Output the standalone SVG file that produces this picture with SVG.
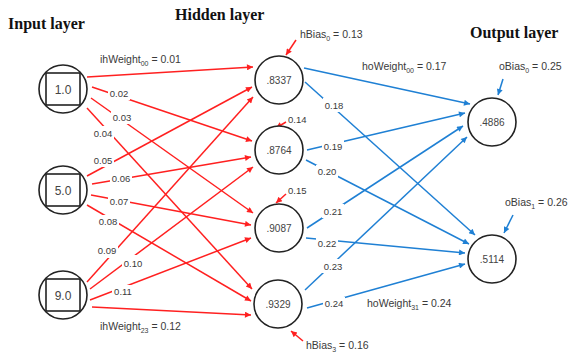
<svg xmlns="http://www.w3.org/2000/svg" width="569" height="354" viewBox="0 0 569 354">
<defs>
<marker id="ar" viewBox="0 0 10 10" refX="10" refY="5" markerWidth="8" markerHeight="6" markerUnits="userSpaceOnUse" orient="auto"><path d="M0,0 L10,5 L0,10 z" fill="#ff2020"/></marker>
<marker id="ab" viewBox="0 0 10 10" refX="10" refY="5" markerWidth="8" markerHeight="6" markerUnits="userSpaceOnUse" orient="auto"><path d="M0,0 L10,5 L0,10 z" fill="#1f80d4"/></marker>
<style>
.hd{font-family:"Liberation Serif",serif;font-weight:bold;font-size:16px;fill:#111}
.r{stroke:#ff2020;stroke-width:1.5;fill:none;marker-end:url(#ar)}
.b{stroke:#1f80d4;stroke-width:1.5;fill:none;marker-end:url(#ab)}
.n{fill:#fff;stroke:#222;stroke-width:1.6}
.sq{fill:none;stroke:#222;stroke-width:1.6}
.v{font-family:"Liberation Sans",sans-serif;font-size:10px;fill:#444;text-anchor:middle}
.vi{font-family:"Liberation Sans",sans-serif;font-size:12px;fill:#444;text-anchor:middle}
.l{font-family:"Liberation Sans",sans-serif;font-size:9.5px;fill:#3a3a3a;text-anchor:middle}
.ls{font-family:"Liberation Sans",sans-serif;font-size:9.5px;fill:#3a3a3a}
.t{font-family:"Liberation Sans",sans-serif;font-size:10.5px;fill:#3a3a3a}
.s{font-size:7px}
.bg{fill:#fff}
</style>
</defs>
<rect width="569" height="354" fill="#fff"/>
<text class="hd" x="8" y="29">Input layer</text>
<text class="hd" x="175" y="20">Hidden layer</text>
<text class="hd" x="470" y="38">Output layer</text>

<g id="connectors">
<path class="r" d="M87,77 L253,67"/>
<path class="r" d="M92,87 L252,141"/>
<path class="r" d="M91,98 L253,213"/>
<path class="r" d="M87,108 L252,289"/>
<path class="r" d="M87,176 L252,87"/>
<path class="r" d="M92,184 L251,157"/>
<path class="r" d="M91,195 L251,225"/>
<path class="r" d="M87,205 L251,301"/>
<path class="r" d="M87,282 L253,97"/>
<path class="r" d="M90,289 L253,167"/>
<path class="r" d="M90,300 L251,238"/>
<path class="r" d="M92,307 L251,315"/>
<path class="b" d="M304,68 L470,104"/>
<path class="b" d="M305,82 L475,235"/>
<path class="b" d="M307,150 L465,113"/>
<path class="b" d="M306,160 L469,244"/>
<path class="b" d="M307,228 L463,126"/>
<path class="b" d="M306,238 L465,253"/>
<path class="b" d="M305,290 L467,137"/>
<path class="b" d="M307,308 L465,264"/>
<path class="r" d="M296,40 L286,55"/>
<path class="r" d="M286,122 L276,128"/>
<path class="r" d="M286,194 L276,203"/>
<path class="r" d="M303,341 L291,331"/>
<path class="b" d="M503,79 L498,95"/>
<path class="b" d="M513,215 L504,233"/>
</g>

<g id="weight-labels">
<rect class="bg" x="108" y="87" width="22" height="13"/><text class="l" x="119" y="96.5">0.02</text>
<rect class="bg" x="111" y="111" width="22" height="13"/><text class="l" x="122" y="120.5">0.03</text>
<rect class="bg" x="92" y="126" width="22" height="14"/><text class="l" x="103" y="136.5">0.04</text>
<rect class="bg" x="92" y="153" width="22" height="14"/><text class="l" x="103" y="163.5">0.05</text>
<rect class="bg" x="110" y="172" width="22" height="13"/><text class="l" x="121" y="181.5">0.06</text>
<rect class="bg" x="108" y="195" width="22" height="13"/><text class="l" x="119" y="204.5">0.07</text>
<rect class="bg" x="97" y="215" width="22" height="13"/><text class="l" x="108" y="224.5">0.08</text>
<rect class="bg" x="96" y="244" width="22" height="14"/><text class="l" x="107" y="254">0.09</text>
<rect class="bg" x="122" y="255" width="22" height="14"/><text class="l" x="133" y="266.5">0.10</text>
<rect class="bg" x="112" y="285" width="22" height="13"/><text class="l" x="123" y="294.5">0.11</text>
<rect class="bg" x="323" y="98" width="22" height="14"/><text class="l" x="334" y="108.5">0.18</text>
<rect class="bg" x="322" y="140" width="22" height="13"/><text class="l" x="333" y="149.5">0.19</text>
<rect class="bg" x="316" y="165" width="22" height="13"/><text class="l" x="327" y="174.5">0.20</text>
<rect class="bg" x="322" y="204" width="22" height="14"/><text class="l" x="333" y="214.5">0.21</text>
<rect class="bg" x="316" y="237" width="22" height="13"/><text class="l" x="327" y="246.5">0.22</text>
<rect class="bg" x="322" y="259" width="22" height="14"/><text class="l" x="333" y="269.5">0.23</text>
<rect class="bg" x="323" y="297" width="22" height="13"/><text class="l" x="334" y="306.5">0.24</text>
<text class="t" x="100" y="63">ihWeight<tspan class="s" dy="2.5">00</tspan><tspan dy="-2.5"> = 0.01</tspan></text>
<text class="t" x="100" y="330">ihWeight<tspan class="s" dy="2.5">23</tspan><tspan dy="-2.5"> = 0.12</tspan></text>
<text class="t" x="362" y="70">hoWeight<tspan class="s" dy="2.5">00</tspan><tspan dy="-2.5"> = 0.17</tspan></text>
<text class="t" x="367" y="307">hoWeight<tspan class="s" dy="2.5">31</tspan><tspan dy="-2.5"> = 0.24</tspan></text>
</g>

<g id="bias-labels">
<text class="t" x="300" y="38">hBias<tspan class="s" dy="2.5">0</tspan><tspan dy="-2.5"> = 0.13</tspan></text>
<text class="ls" x="288" y="123">0.14</text>
<text class="ls" x="288" y="194">0.15</text>
<text class="t" x="306" y="349">hBias<tspan class="s" dy="2.5">3</tspan><tspan dy="-2.5"> = 0.16</tspan></text>
<text class="t" x="499" y="70">oBias<tspan class="s" dy="2.5">0</tspan><tspan dy="-2.5"> = 0.25</tspan></text>
<text class="t" x="505" y="206">oBias<tspan class="s" dy="2.5">1</tspan><tspan dy="-2.5"> = 0.26</tspan></text>
</g>

<g id="input0"><circle class="n" cx="63" cy="89" r="24"/><rect class="sq" x="46" y="73" width="34" height="32"/><text class="vi" x="63" y="94">1.0</text></g>
<g id="input1"><circle class="n" cx="63" cy="190" r="24"/><rect class="sq" x="46" y="174" width="34" height="32"/><text class="vi" x="63" y="195">5.0</text></g>
<g id="input2"><circle class="n" cx="63" cy="295" r="24"/><rect class="sq" x="46" y="279" width="34" height="32"/><text class="vi" x="63" y="300">9.0</text></g>

<g id="hidden0"><circle class="n" cx="279" cy="80" r="24"/><text class="v" x="279" y="83.5">.8337</text></g>
<g id="hidden1"><circle class="n" cx="279" cy="150" r="24"/><text class="v" x="279" y="153.5">.8764</text></g>
<g id="hidden2"><circle class="n" cx="279" cy="228" r="24"/><text class="v" x="279" y="231.5">.9087</text></g>
<g id="hidden3"><circle class="n" cx="278" cy="304" r="24"/><text class="v" x="278" y="307.5">.9329</text></g>

<g id="output0"><circle class="n" cx="492" cy="122" r="24"/><text class="v" x="492" y="125.5">.4886</text></g>
<g id="output1"><circle class="n" cx="492" cy="259" r="24"/><text class="v" x="492" y="262.5">.5114</text></g>
</svg>
